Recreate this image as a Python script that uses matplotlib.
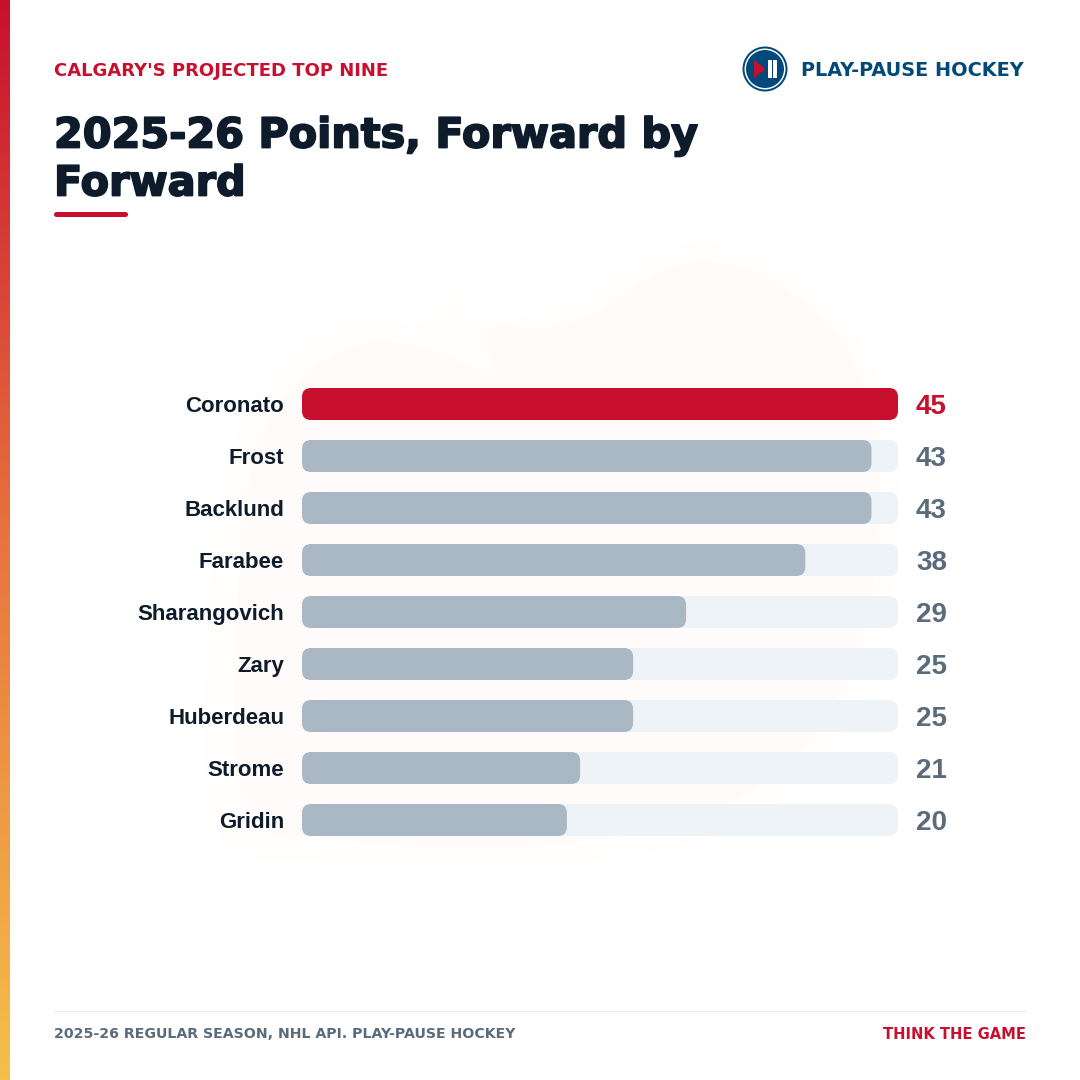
"""Calgary projected top nine, points bar chart."""

import numpy as np
import matplotlib
matplotlib.use('Agg')
import matplotlib.pyplot as plt
from matplotlib.colors import LinearSegmentedColormap
from matplotlib.path import Path
from matplotlib.patches import Circle, FancyBboxPatch, PathPatch, Polygon, Rectangle
import matplotlib.patheffects as pe

players = ['Coronato', 'Frost', 'Backlund', 'Farabee', 'Sharangovich',
           'Zary', 'Huberdeau', 'Strome', 'Gridin']
points = [45, 43, 43, 38, 29, 25, 25, 21, 20]
max_points = 45

RED = '#C8102E'
NAVY = '#0D1B2A'
GREY_BAR = '#AAB8C3'
TRACK = '#EEF3F8'
SLATE = '#5A6B7B'
LOGO_BLUE = '#00497A'

plt.rcParams['font.family'] = ['Liberation Sans', 'DejaVu Sans']

fig = plt.figure(figsize=(10.8, 10.8), dpi=100, facecolor='white')

# full page axes in pixel coordinates for the decoration
page = fig.add_axes([0, 0, 1, 1])
page.set_xlim(0, 1080)
page.set_ylim(1080, 0)
page.axis('off')

# left gradient strip
strip = LinearSegmentedColormap.from_list('strip', ['#C8102E', '#E8743F', '#F4C04A'])
page.imshow(np.linspace(0, 1, 256).reshape(-1, 1), cmap=strip, extent=(0, 10, 1080, 0),
            aspect='auto', zorder=2)
page.set_xlim(0, 1080)
page.set_ylim(1080, 0)


def smooth_blob(pts, color, zorder):
    # closed quadratic spline through the midpoints of the outline
    pts = np.array(pts, dtype=float)
    mids = (pts + np.roll(pts, -1, axis=0)) / 2
    verts = [mids[-1]]
    codes = [Path.MOVETO]
    for ctrl, mid in zip(pts, mids):
        verts += [ctrl, mid]
        codes += [Path.CURVE3, Path.CURVE3]
    page.add_patch(PathPatch(Path(verts, codes), fc=color, ec='none', zorder=zorder))


def heavy(color, width):
    # one fill and stroke pass makes the glyphs heavier
    return [pe.Stroke(linewidth=width, foreground=color)]


# faint flame watermark
flame_outer = [(200, 860), (205, 600), (235, 400), (345, 305), (432, 335), (445, 268),
               (475, 325), (560, 310), (690, 225), (830, 285), (905, 420), (895, 620),
               (830, 770), (700, 850), (500, 870), (320, 860)]
flame_inner = [(235, 830), (235, 600), (255, 420), (350, 335), (440, 350), (505, 385),
               (470, 320), (570, 335), (690, 245), (820, 300), (885, 420), (875, 610),
               (815, 750), (690, 830), (500, 850), (330, 840)]
smooth_blob(flame_outer, '#FFFEFD', 1)
smooth_blob(flame_inner, '#FFFBFA', 1.1)

# header
page.text(54, 69, "CALGARY'S PROJECTED TOP NINE", fontsize=13, fontweight='bold',
          family=['DejaVu Sans'], color=RED, va='center_baseline', ha='left', zorder=5)
page.text(54, 132, '2025-26 Points, Forward by', fontsize=29.8, fontweight='bold',
          family=['DejaVu Sans'], color=NAVY, va='center_baseline', ha='left', zorder=5,
          path_effects=heavy(NAVY, 1.3))
page.text(54, 180, 'Forward', fontsize=29.8, fontweight='bold', family=['DejaVu Sans'],
          color=NAVY, va='center_baseline', ha='left', zorder=5, path_effects=heavy(NAVY, 1.3))
page.add_patch(FancyBboxPatch((54, 212), 74, 5, boxstyle='round,pad=0,rounding_size=2.5',
                              fc=RED, ec='none', zorder=5))

# logo
page.add_patch(Circle((765, 69), 22.5, fc=LOGO_BLUE, ec='none', zorder=5))
page.add_patch(Circle((765, 69), 20.5, fc='white', ec='none', zorder=5.1))
page.add_patch(Circle((765, 69), 19, fc=LOGO_BLUE, ec='none', zorder=5.2))
page.add_patch(Polygon([(754, 60), (754, 78), (765.5, 69)], closed=True, fc=RED, ec='none', zorder=5.3))
page.add_patch(Rectangle((768, 60), 3.8, 18, fc='white', ec='none', zorder=5.3))
page.add_patch(Rectangle((773.4, 60), 3.8, 18, fc='white', ec='none', zorder=5.3))
page.text(801, 69, 'PLAY-PAUSE HOCKEY', fontsize=13.9, fontweight='bold', family=['DejaVu Sans'],
          color=LOGO_BLUE, va='center_baseline', ha='left', zorder=5)

# footer
page.plot([54, 1026], [1010.5, 1010.5], color='#E6EBF1', lw=0.72, zorder=5)
page.text(54, 1033, '2025-26 REGULAR SEASON, NHL API. PLAY-PAUSE HOCKEY', fontsize=10.2,
          fontweight='bold', family=['DejaVu Sans'], color=SLATE, va='center_baseline',
          ha='left', zorder=5)
page.text(1026, 1033, 'THINK THE GAME', fontsize=10.6, fontweight='bold', family=['DejaVu Sans'],
          color=RED, va='center_baseline', ha='right', zorder=5)

# bar chart, rows are 52px apart, full scale is 596px
ax = fig.add_axes([302 / 1080, 1 - 846 / 1080, 596 / 1080, 468 / 1080])
ax.patch.set_alpha(0)
ax.set_xlim(0, max_points)
ax.set_ylim(len(players) - 0.5, -0.5)
ax.axis('off')

bar_h = 32 / 52
x_per_px = max_points / 596
y_per_px = 1 / 52
round_x = 9 * x_per_px
aspect = y_per_px / x_per_px


def rounded_bar(value, row, color, zorder):
    ax.add_patch(FancyBboxPatch((0, row - bar_h / 2), value, bar_h,
                                boxstyle=f'round,pad=0,rounding_size={round_x}',
                                mutation_aspect=aspect, fc=color, ec='none',
                                clip_on=False, zorder=zorder))


for row, (name, value) in enumerate(zip(players, points)):
    is_top = value == max(points)
    value_color = RED if is_top else SLATE
    rounded_bar(max_points, row, TRACK, 2)
    rounded_bar(value, row, RED if is_top else GREY_BAR, 3)
    ax.text(-18 * x_per_px, row, name, ha='right', va='center_baseline', fontsize=16,
            fontweight='bold', color=NAVY, clip_on=False)
    ax.text(max_points + 18 * x_per_px, row, str(value), ha='left', va='center_baseline',
            fontsize=20, fontweight='bold', color=value_color, clip_on=False)

fig.savefig('out.png', dpi=100, facecolor='white')
